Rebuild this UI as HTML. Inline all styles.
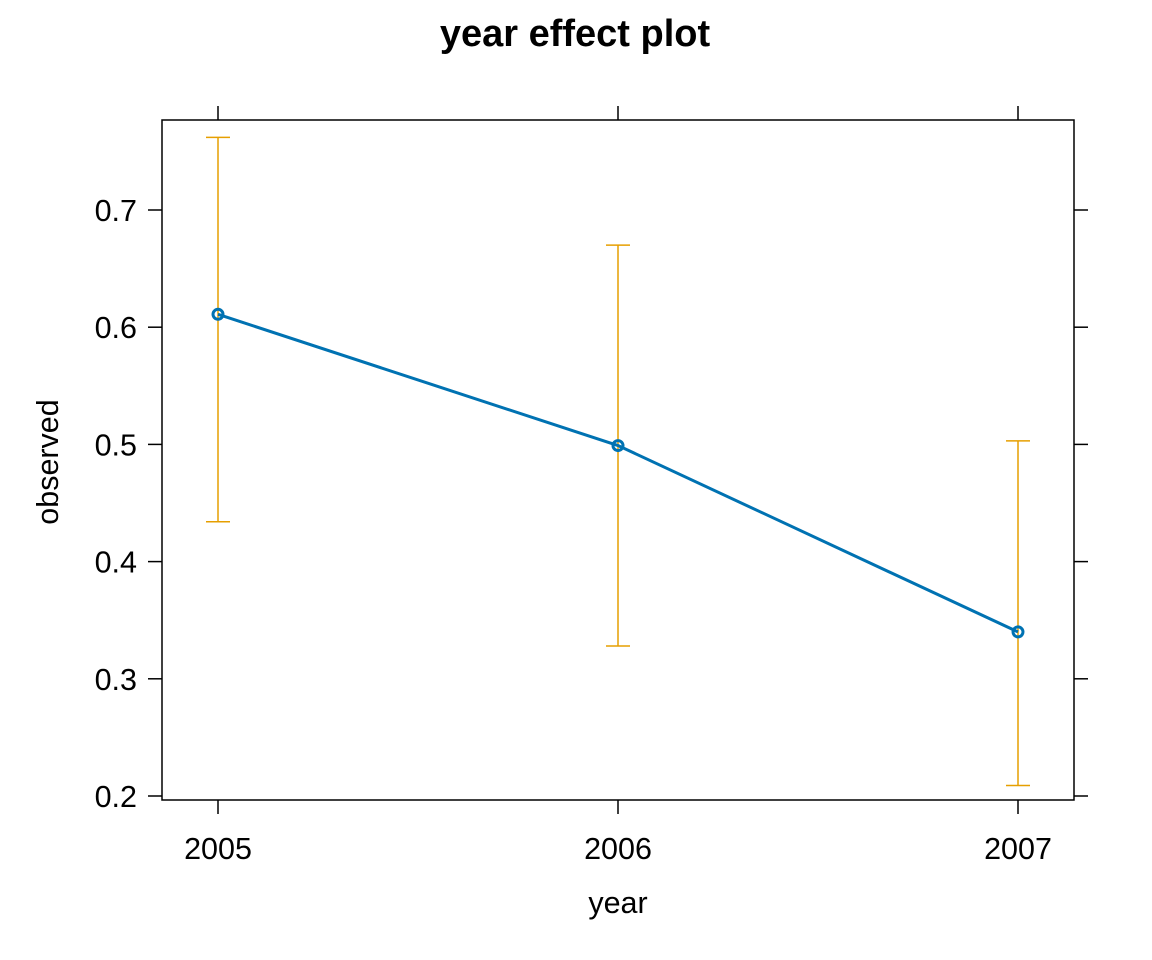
<!DOCTYPE html>
<html><head><meta charset="utf-8">
<style>
html,body{margin:0;padding:0;background:#fff;}
svg{display:block;font-family:"Liberation Sans",Arial,sans-serif;}
</style></head>
<body>
<svg id="chart" width="1152" height="960" viewBox="0 0 1152 960">
<text x="575" y="46" text-anchor="middle" font-size="38" font-weight="bold">year effect plot</text>
<rect x="162" y="120" width="912" height="680" fill="none" stroke="#000" stroke-width="1.5"/>
<g id="axes"></g>
<g id="marks"></g>
<text x="618" y="913" text-anchor="middle" font-size="30.5">year</text>
<text transform="translate(58,462) rotate(-90)" text-anchor="middle" font-size="30.5">observed</text>
</svg>
<script>
const years = ["2005","2006","2007"];
const fitValues = [0.611, 0.499, 0.340];
const lowerValues = [0.434, 0.328, 0.209];
const upperValues = [0.762, 0.670, 0.503];
const yTicks = [0.2,0.3,0.4,0.5,0.6,0.7];
const yTickLabels = ["0.2","0.3","0.4","0.5","0.6","0.7"];

const NS="http://www.w3.org/2000/svg";
function xPos(i){return 218+i*400;}
function yPos(v){return 796-(v-0.2)*1172;}
function mk(tag,attrs,parent){const e=document.createElementNS(NS,tag);for(const k in attrs)e.setAttribute(k,attrs[k]);parent.appendChild(e);return e;}
const axes=document.getElementById('axes'), marks=document.getElementById('marks');

yTicks.forEach((t,i)=>{
  const y=yPos(t);
  let l=mk('line',{x1:148,x2:162,y1:y,y2:y,stroke:'#000','stroke-width':1.5},axes);
  
  
  let r=mk('line',{x1:1074,x2:1088,y1:y,y2:y,stroke:'#000','stroke-width':1.5},axes);
  
  
  let tx=mk('text',{x:137,y:y+11,'text-anchor':'end','font-size':30.5},axes);
  tx.textContent=yTickLabels[i];
  
  
});
years.forEach((yr,i)=>{
  const x=xPos(i);
  let t=mk('line',{x1:x,x2:x,y1:106,y2:120,stroke:'#000','stroke-width':1.5},axes);
  
  
  let b=mk('line',{x1:x,x2:x,y1:800,y2:814,stroke:'#000','stroke-width':1.5},axes);
  
  
  let tx=mk('text',{x:x,y:859,'text-anchor':'middle','font-size':30.5},axes);
  tx.textContent=yr;
  
  
});
years.forEach((yr,i)=>{
  const x=xPos(i), y1=yPos(upperValues[i]), y2=yPos(lowerValues[i]);
  const g=mk('g',{stroke:'#E69F00','stroke-width':1.5},marks);
  
  
  mk('line',{x1:x,x2:x,y1:y1,y2:y2},g);
  mk('line',{x1:x-12,x2:x+12,y1:y1,y2:y1},g);
  mk('line',{x1:x-12,x2:x+12,y1:y2,y2:y2},g);
});
const pts=years.map((_,i)=>xPos(i)+','+yPos(fitValues[i])).join(' ');
const pl=mk('polyline',{points:pts,fill:'none',stroke:'#0072B2','stroke-width':3},marks);


years.forEach((yr,i)=>{
  const c=mk('circle',{cx:xPos(i),cy:yPos(fitValues[i]),r:5,fill:'none',stroke:'#0072B2','stroke-width':3},marks);
  
  
});
</script>
</body></html>
